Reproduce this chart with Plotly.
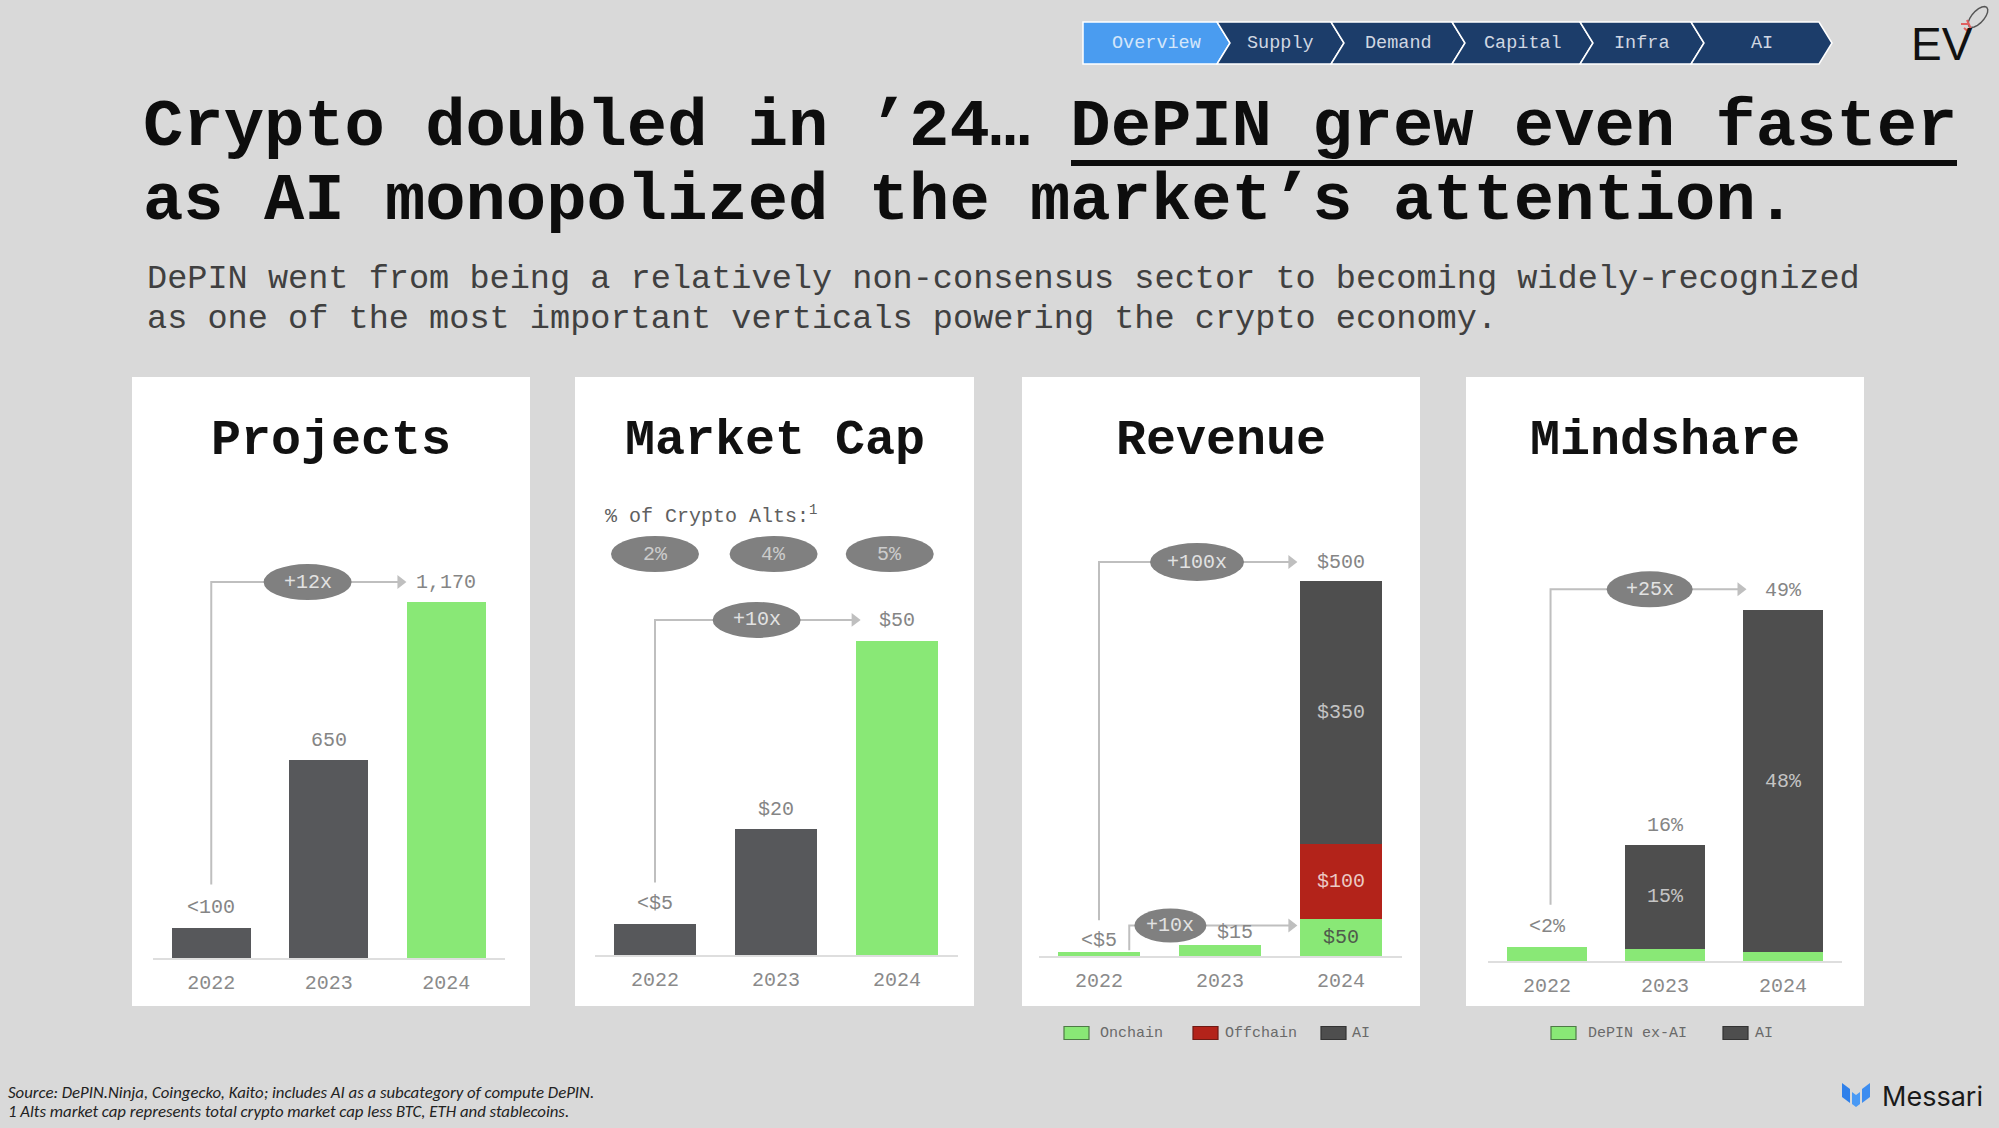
import math
import plotly.graph_objects as go

W, H = 1999, 1128


def px(x):
    return x / W


def py(y):
    return 1 - y / H


# ---------------- data ----------------
years = ["2022", "2023", "2024"]

projects_count = [100, 650, 1170]
projects_labels = ["<100", "650", "1,170"]
projects_growth = "+12x"

mcap_bn = [5, 20, 50]
mcap_labels = ["<$5", "$20", "$50"]
mcap_alts_share = ["2%", "4%", "5%"]
mcap_growth = "+10x"

revenue_series = ["Onchain", "Offchain", "AI"]
revenue_onchain = [5, 15, 50]
revenue_offchain = [0, 0, 100]
revenue_ai = [0, 0, 350]
revenue_labels = ["<$5", "$15", "$500"]
revenue_onchain_labels = ["", "", "$50"]
revenue_offchain_labels = ["", "", "$100"]
revenue_ai_labels = ["", "", "$350"]
revenue_growth = "+100x"
revenue_growth_onchain = "+10x"

mind_series = ["DePIN ex-AI", "AI"]
mind_depin_ex_ai = [2.0, 1.7, 1.2]
mind_ai = [0.0, 14.5, 47.8]
mind_labels = ["<2%", "16%", "49%"]
mind_ai_labels = ["", "15%", "48%"]
mind_growth = "+25x"

nav_items = ["Overview", "Supply", "Demand", "Capital", "Infra", "AI"]

# ---------------- style ----------------
BG = "#d9d9d9"
DARK = "#57585b"
AI_DARK = "#4e4e4e"
GREEN = "#89e876"
RED = "#b3231a"
LINE = "#bfbfbf"
PILL = "#808080"
LABEL = "#858585"
MONO = "Courier New, Liberation Mono, monospace"

TOP = 470
panels = [
    dict(title="Projects", left=132, right=530, ax0=152.5, ax1=505, base=958, ymax=1604),
    dict(title="Market Cap", left=575, right=974, ax0=594.5, ax1=957.5, base=955, ymax=77.2),
    dict(title="Revenue", left=1022, right=1420, ax0=1038.5, ax1=1401.5, base=956, ymax=648),
    dict(title="Mindshare", left=1466, right=1864, ax0=1488, ax1=1842, base=961, ymax=68.6),
]
for p in panels:
    p["scale"] = (p["base"] - TOP) / p["ymax"]

xs = list(range(len(years)))
BAR_W = 0.67

fig = go.Figure()
shapes = []
annotations = []


def refs(k):
    return ("x" if k == 1 else f"x{k}"), ("y" if k == 1 else f"y{k}")


def note(x, y, text, size, color, family=MONO, xanchor="center", yanchor="middle"):
    annotations.append(dict(
        x=x, y=y, xref="paper", yref="paper", text=text, showarrow=False,
        xanchor=xanchor, yanchor=yanchor,
        font=dict(family=family, size=size, color=color),
    ))


def add_bar(k, values, colors, name):
    xr, yr = refs(k)
    fig.add_trace(go.Bar(
        x=xs, y=values, xaxis=xr, yaxis=yr, width=BAR_W, name=name,
        marker=dict(color=colors, line=dict(width=0)), showlegend=False,
        hoverinfo="skip",
    ))


def add_label(k, x, y, text, yshift=20, xshift=0, color=LABEL, size=20):
    if not text:
        return
    xr, yr = refs(k)
    annotations.append(dict(
        x=x, y=y, xref=xr, yref=yr, text=text, showarrow=False,
        yshift=yshift, xshift=xshift, yanchor="middle", xanchor="center",
        font=dict(family=MONO, size=size, color=color),
    ))


def add_growth(k, x0, v_start, start_gap, v_end, end_gap, pill_x, tip_x, text,
               pill_w=88, pill_h=36):
    xr, yr = refs(k)
    s = panels[k - 1]["scale"]
    y0 = v_start + start_gap / s
    y1 = v_end + end_gap / s
    shapes.append(dict(
        type="path", xref=xr, yref=yr, layer="above",
        path=f"M {x0},{y0} L {x0},{y1} L {tip_x - 0.06},{y1}",
        line=dict(color=LINE, width=2),
    ))
    fig.add_trace(go.Scatter(
        x=[tip_x - 0.05], y=[y1], xaxis=xr, yaxis=yr, mode="markers",
        marker=dict(symbol="triangle-right", size=12, color=LINE),
        showlegend=False, hoverinfo="skip",
    ))
    shapes.append(dict(
        type="circle", xref=xr, yref=yr, layer="above",
        xsizemode="pixel", ysizemode="pixel", xanchor=pill_x, yanchor=y1,
        x0=-pill_w / 2, x1=pill_w / 2, y0=-pill_h / 2, y1=pill_h / 2,
        fillcolor=PILL, line=dict(width=0),
    ))
    annotations.append(dict(
        x=pill_x, y=y1, xref=xr, yref=yr, text=text, showarrow=False,
        xanchor="center", yanchor="middle",
        font=dict(family=MONO, size=20, color="#e2e2e2"),
    ))


# ---- panel backgrounds + titles ----
for p in panels:
    shapes.append(dict(
        type="rect", xref="paper", yref="paper", layer="below",
        x0=px(p["left"]), x1=px(p["right"]), y0=py(1006), y1=py(377),
        fillcolor="white", line=dict(width=0),
    ))
    note(px((p["left"] + p["right"]) / 2), py(440), f"<b>{p['title']}</b>", 50, "#111111")

# ---- Projects ----
add_bar(1, projects_count, [DARK, DARK, GREEN], "Projects")
for i in xs:
    add_label(1, i, projects_count[i], projects_labels[i])
add_growth(1, 0, projects_count[0], 43, projects_count[2], 20, 0.82, 1.66, projects_growth)

# ---- Market Cap ----
add_bar(2, mcap_bn, [DARK, DARK, GREEN], "Market Cap")
for i in xs:
    add_label(2, i, mcap_bn[i], mcap_labels[i])
add_growth(2, 0, mcap_bn[0], 41, mcap_bn[2], 21, 0.84, 1.7, mcap_growth)
note(px(603), py(515), "% of Crypto Alts:<sup>1</sup>", 20, "#606060", xanchor="left")
pill_xs = [0.0, 0.98, 1.94]
for i, t in enumerate(mcap_alts_share):
    shapes.append(dict(
        type="circle", xref="x2", yref="paper", layer="above",
        xsizemode="pixel", ysizemode="pixel", xanchor=pill_xs[i], yanchor=py(554),
        x0=-44, x1=44, y0=-18, y1=18, fillcolor=PILL, line=dict(width=0),
    ))
    annotations.append(dict(
        x=pill_xs[i], y=py(554), xref="x2", yref="paper", text=t, showarrow=False,
        xanchor="center", yanchor="middle",
        font=dict(family=MONO, size=20, color="#cccccc"),
    ))

# ---- Revenue ----
add_bar(3, revenue_onchain, GREEN, revenue_series[0])
add_bar(3, revenue_offchain, RED, revenue_series[1])
add_bar(3, revenue_ai, AI_DARK, revenue_series[2])
rev_tot = [a + b + c for a, b, c in zip(revenue_onchain, revenue_offchain, revenue_ai)]
for i in xs:
    if i < 2:
        add_label(3, i, rev_tot[i], revenue_labels[i], yshift=12, xshift=15 * i)
    else:
        add_label(3, i, rev_tot[i], revenue_labels[i], yshift=19)
    add_label(3, i, revenue_onchain[i] / 2, revenue_onchain_labels[i], yshift=0, color="#4f5a4c")
    add_label(3, i, revenue_onchain[i] + revenue_offchain[i] / 2,
              revenue_offchain_labels[i], yshift=0, color="#ecc9c4")
    add_label(3, i, revenue_onchain[i] + revenue_offchain[i] + revenue_ai[i] / 2,
              revenue_ai_labels[i], yshift=0, color="#c4c4c4")
add_growth(3, 0, rev_tot[0], 32, rev_tot[2], 19, 0.81, 1.64, revenue_growth, pill_w=94, pill_h=38)
add_growth(3, 0.25, revenue_onchain[0], 2, revenue_onchain[2], -7, 0.59, 1.64,
           revenue_growth_onchain, pill_w=72, pill_h=34)

# ---- Mindshare ----
add_bar(4, mind_depin_ex_ai, GREEN, mind_series[0])
add_bar(4, mind_ai, AI_DARK, mind_series[1])
mind_tot = [a + b for a, b in zip(mind_depin_ex_ai, mind_ai)]
for i in xs:
    add_label(4, i, mind_tot[i], mind_labels[i])
    add_label(4, i, mind_depin_ex_ai[i] + mind_ai[i] / 2, mind_ai_labels[i], yshift=0,
              color="#c4c4c4")
add_growth(4, 0.03, mind_tot[0], 42, mind_tot[2], 21, 0.87, 1.69, mind_growth, pill_w=86)


# ---- legends (manual) ----
def legend_item(bx, tx, color, outline, text):
    shapes.append(dict(
        type="rect", xref="paper", yref="paper", layer="above",
        x0=px(bx), x1=px(bx + 25), y0=py(1039.5), y1=py(1026.5),
        fillcolor=color, line=dict(color=outline, width=1.2),
    ))
    note(px(tx), py(1033), text, 15, "#6a6a6a", xanchor="left")


legend_item(1064, 1098, GREEN, "#4d7a45", revenue_series[0])
legend_item(1193, 1223, RED, "#6e1a14", revenue_series[1])
legend_item(1321, 1350, AI_DARK, "#333333", revenue_series[2])
legend_item(1551, 1586, GREEN, "#4d7a45", mind_series[0])
legend_item(1723, 1753, AI_DARK, "#333333", mind_series[1])

# ---- axes ----
layout_axes = {}
for k, p in enumerate(panels, start=1):
    xn = "xaxis" if k == 1 else f"xaxis{k}"
    yn = "yaxis" if k == 1 else f"yaxis{k}"
    xr, yr = refs(k)
    layout_axes[xn] = dict(
        domain=[px(p["ax0"]), px(p["ax1"])], range=[-0.5, 2.5], anchor=yr,
        tickvals=xs, ticktext=years, showline=True, linecolor="#dedede", linewidth=2,
        showgrid=False, zeroline=False, ticks="outside", ticklen=5,
        tickcolor="rgba(0,0,0,0)", tickfont=dict(family=MONO, size=20, color="#8a8a8a"),
        fixedrange=True,
    )
    layout_axes[yn] = dict(
        domain=[py(p["base"]), py(TOP)], range=[0, p["ymax"]], anchor=xr,
        visible=False, showgrid=False, zeroline=False, fixedrange=True,
    )

# ---- header: nav bar ----
b = [1083, 1217, 1331, 1452, 1580, 1691, 1819]
d = 13
nt, nb, nm = 22, 64, 43
for i, name in enumerate(nav_items):
    x0, x1 = b[i], b[i + 1]
    if i == 0:
        path = (f"M {px(x0)},{py(nt)} L {px(x1)},{py(nt)} L {px(x1 + d)},{py(nm)} "
                f"L {px(x1)},{py(nb)} L {px(x0)},{py(nb)} Z")
    else:
        path = (f"M {px(x0)},{py(nt)} L {px(x1)},{py(nt)} L {px(x1 + d)},{py(nm)} "
                f"L {px(x1)},{py(nb)} L {px(x0)},{py(nb)} L {px(x0 + d)},{py(nm)} Z")
    shapes.append(dict(
        type="path", xref="paper", yref="paper", path=path, layer="above",
        fillcolor="#4a9cf0" if i == 0 else "#1c3d6a",
        line=dict(color="white", width=1.5),
    ))
    note(px((x0 + x1) / 2 + d / 2), py(nm), name, 18.5,
         "#d4e6fa" if i == 0 else "#d0d7e2")

# EV logo
note(px(1942), py(44), "EV", 46, "#111111",
     family="Liberation Sans Narrow, Liberation Sans, sans-serif")
# small rocket next to the logo (decorative)
ang = math.atan2(-22, 20)
cx, cy, ra, rb = 1978, 17, 13, 6
pts = []
for t in range(0, 360, 20):
    tr = math.radians(t)
    ex, ey = ra * math.cos(tr), rb * math.sin(tr)
    pts.append((cx + ex * math.cos(ang) - ey * math.sin(ang),
                cy + ex * math.sin(ang) + ey * math.cos(ang)))
shapes.append(dict(
    type="path", xref="paper", yref="paper", layer="above",
    path="M " + " L ".join(f"{px(x)},{py(y)}" for x, y in pts) + " Z",
    fillcolor="rgba(0,0,0,0)", line=dict(color="#555555", width=1.4),
))
for (xa, ya, xb, yb) in [(1961, 24, 1969, 24), (1964, 28, 1970, 33), (1967, 20, 1971, 29)]:
    shapes.append(dict(type="line", xref="paper", yref="paper", layer="above",
                       x0=px(xa), y0=py(ya), x1=px(xb), y1=py(yb),
                       line=dict(color="#e06060", width=2)))

# ---- title ----
note(px(141), py(127), "<b>Crypto doubled in ’24… DePIN grew even faster</b>", 67.2,
     "#0d0d0d", xanchor="left")
note(px(141), py(201), "<b>as AI monopolized the market’s attention.</b>", 67.2,
     "#0d0d0d", xanchor="left")
shapes.append(dict(
    type="line", xref="paper", yref="paper", x0=px(1071), x1=px(1957),
    y0=py(163), y1=py(163), line=dict(color="#0d0d0d", width=6), layer="above",
))

note(px(145), py(279),
     "DePIN went from being a relatively non-consensus sector to becoming widely-recognized",
     33.6, "#404040", xanchor="left")
note(px(145), py(319),
     "as one of the most important verticals powering the crypto economy.",
     33.6, "#404040", xanchor="left")

# ---- footer ----
FOOT = "Carlito, Lato, sans-serif"
note(px(6), py(1092),
     "<i>Source: DePIN.Ninja, Coingecko, Kaito; includes AI as a subcategory of compute DePIN.</i>",
     16.8, "#222222", family=FOOT, xanchor="left")
note(px(6), py(1111),
     "<i>1 Alts market cap represents total crypto market cap less BTC, ETH and stablecoins.</i>",
     16.8, "#222222", family=FOOT, xanchor="left")

# Messari logo
icon = [
    ([(1842, 1083), (1850, 1089), (1850, 1103), (1842, 1097)], "#2f80ea"),
    ([(1852, 1092), (1856, 1095), (1860, 1092), (1860, 1104), (1856, 1107), (1852, 1104)],
     "#4a9af5"),
    ([(1870, 1083), (1862, 1089), (1862, 1103), (1870, 1097)], "#3d8df0"),
]
for pts_i, col in icon:
    path = "M " + " L ".join(f"{px(x)},{py(y)}" for x, y in pts_i) + " Z"
    shapes.append(dict(type="path", xref="paper", yref="paper", path=path,
                       fillcolor=col, line=dict(width=0), layer="above"))
note(px(1880), py(1096), "Messari", 27, "#1a1a1a",
     family="Inter, Roboto, sans-serif", xanchor="left")

fig.update_layout(
    width=W, height=H, autosize=False,
    margin=dict(l=0, r=0, t=0, b=0, pad=0),
    paper_bgcolor=BG, plot_bgcolor="rgba(0,0,0,0)",
    barmode="stack", showlegend=False,
    shapes=shapes, annotations=annotations,
    **layout_axes,
)

fig.write_html(
    "out.html", config={"displayModeBar": False},
    post_script="document.body.style.margin='0';document.body.style.background='#d9d9d9';",
)
